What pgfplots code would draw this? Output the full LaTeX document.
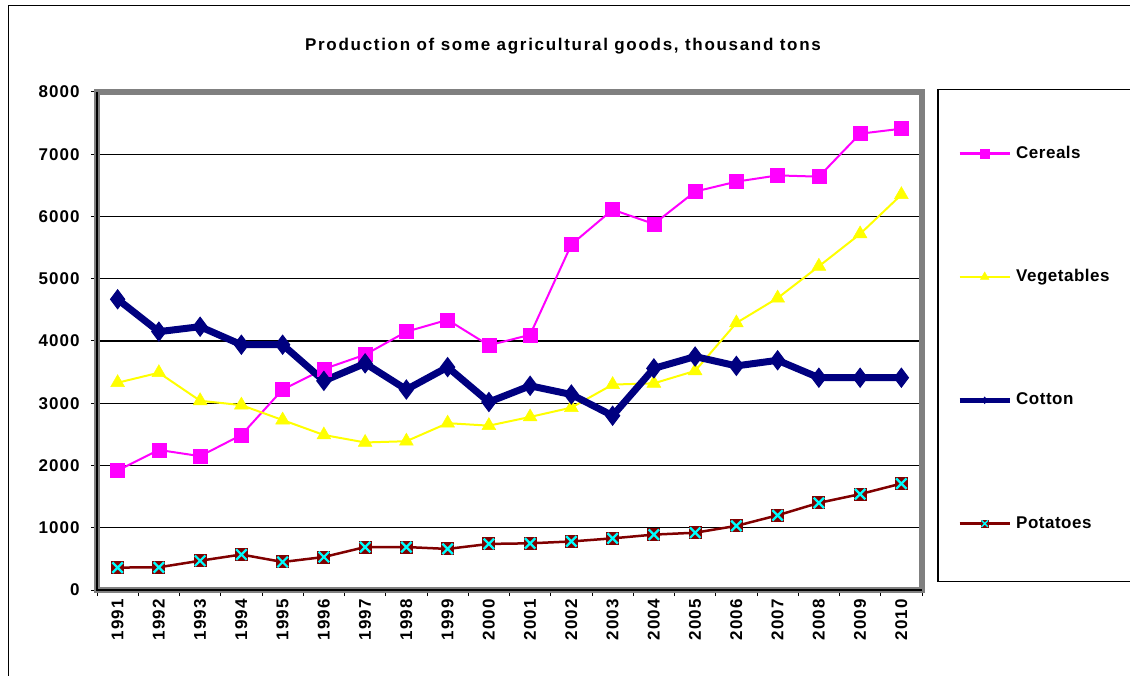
\documentclass[border=0pt]{standalone}
\usepackage{fontspec}
\setmainfont{Liberation Sans}
\newfontfamily\tickfont[LetterSpace=6]{Liberation Sans}
\newfontfamily\legfont[LetterSpace=3]{Liberation Sans}
\newfontfamily\titlefont[LetterSpace=10]{Liberation Sans}
\usepackage{pgfplots}
\pgfplotsset{compat=1.18}
\usepackage{pgfplotstable}
\definecolor{cer}{RGB}{255,0,255}
\definecolor{veg}{RGB}{255,255,0}
\definecolor{cot}{RGB}{0,0,128}
\definecolor{pot}{RGB}{128,0,0}
\definecolor{potx}{RGB}{0,255,255}
\definecolor{wall}{RGB}{128,128,128}
\pgfdeclareplotmark{sqx}{%
  \pgfpathrectangle{\pgfqpoint{-\pgfplotmarksize}{-\pgfplotmarksize}}{\pgfqpoint{2\pgfplotmarksize}{2\pgfplotmarksize}}%
  \pgfsetfillcolor{pot}\pgfusepath{fill}%
  \pgfsetstrokecolor{potx}\pgfsetlinewidth{0.35\pgfplotmarksize}%
  \pgfpathmoveto{\pgfqpoint{-0.8\pgfplotmarksize}{-0.8\pgfplotmarksize}}%
  \pgfpathlineto{\pgfqpoint{0.8\pgfplotmarksize}{0.8\pgfplotmarksize}}%
  \pgfpathmoveto{\pgfqpoint{-0.8\pgfplotmarksize}{0.8\pgfplotmarksize}}%
  \pgfpathlineto{\pgfqpoint{0.8\pgfplotmarksize}{-0.8\pgfplotmarksize}}%
  \pgfusepath{stroke}%
}
\pgfplotstableread{
x cereals vegetables cotton potatoes
1  1920 3330 4670 360
2  2250 3490 4150 365
3  2150 3040 4230 470
4  2490 2970 3940 570
5  3220 2730 3940 450
6  3550 2490 3360 530
7  3780 2370 3640 690
8  4150 2390 3220 690
9  4340 2680 3580 660
10 3930 2640 3020 740
11 4100 2780 3280 750
12 5550 2930 3140 780
13 6110 3300 2800 830
14 5880 3320 3560 890
15 6400 3520 3750 920
16 6560 4290 3600 1030
17 6660 4690 3690 1200
18 6640 5200 3410 1400
19 7330 5720 3410 1540
20 7410 6350 3410 1710
}\datatable
\begin{document}
\begin{tikzpicture}[x=1pt,y=1pt]
\useasboundingbox (0,0) rectangle (1130,675);
\draw[line width=1pt] (8,-5) -- (8,669) -- (1135,669);
\node[font=\titlefont\bfseries\fontsize{17}{17}\selectfont] at (563,629) {Production of some agricultural goods, thousand tons};
\draw[line width=1.2pt] (938,585.7) rectangle (1140,93.3);
\begin{axis}[
  at={(97pt,85pt)}, anchor=south west,
  width=825pt, height=498pt, scale only axis,
  xmin=0.5, xmax=20.5, ymin=0, ymax=8000,
  xtick={0.5,1.5,...,20.5},
  x tick label as interval,
  xticklabels={1991,1992,1993,1994,1995,1996,1997,1998,1999,2000,2001,2002,2003,2004,2005,2006,2007,2008,2009,2010},
  ytick={0,1000,...,8000},
  tick align=outside, tick pos=left,
  major tick length=6pt,
  every tick/.style={black, line width=1pt},
  ymajorgrids, major grid style={black, line width=1.2pt},
  axis line style={draw=wall, line width=6pt},
  /pgf/number format/assume math mode=true,
  /pgf/number format/set thousands separator={},
  scaled y ticks=false,
  yticklabel style={font=\tickfont\bfseries\fontsize{17}{17}\selectfont, xshift=-8pt},
  xticklabel style={font=\tickfont\bfseries\fontsize{17}{17}\selectfont, rotate=90, anchor=east},
  legend style={draw=none, fill=none, at={(axis description cs:1.0424,0.8936)}, anchor=north west,
    inner sep=0pt, row sep=106.3pt, column sep=4pt,
    nodes={inner sep=0pt, text height=13pt, text depth=4pt, font=\legfont\bfseries\fontsize{17}{17}\selectfont}},
  legend cell align=left,
  legend image code/.code={\draw[mark repeat=2,mark phase=2,#1] plot coordinates {(0pt,0pt) (25pt,0pt) (50pt,0pt)};},
  after end axis/.code={\draw[black, line width=1.2pt] (rel axis cs:0,1) -- (rel axis cs:0,0) -- (rel axis cs:1,0);},
]
\addplot[cer, line width=2pt, mark=square*, mark size=7pt, mark options={solid, fill=cer, draw=cer, line width=0.5pt},
  legend image post style={line width=2.5pt, mark size=4.5pt}] table[x=x, y=cereals] {\datatable};
\addlegendentry{Cereals}
\addplot[veg, line width=2pt, mark=triangle*, mark size=8pt, mark options={solid, fill=veg, draw=veg, line width=0.5pt},
  legend image post style={line width=2.5pt, mark size=5pt}] table[x=x, y=vegetables] {\datatable};
\addlegendentry{Vegetables}
\addplot[cot, line width=7pt, mark=diamond*, mark size=9.5pt, mark options={solid, fill=cot, draw=cot, line width=1pt},
  legend image post style={line width=5pt, mark size=3pt}] table[x=x, y=cotton] {\datatable};
\addlegendentry{Cotton}
\addplot[pot, line width=2.5pt, mark=sqx, mark size=6.5pt,
  legend image post style={mark size=4pt}] table[x=x, y=potatoes] {\datatable};
\addlegendentry{Potatoes}
\end{axis}
\end{tikzpicture}
\end{document}
